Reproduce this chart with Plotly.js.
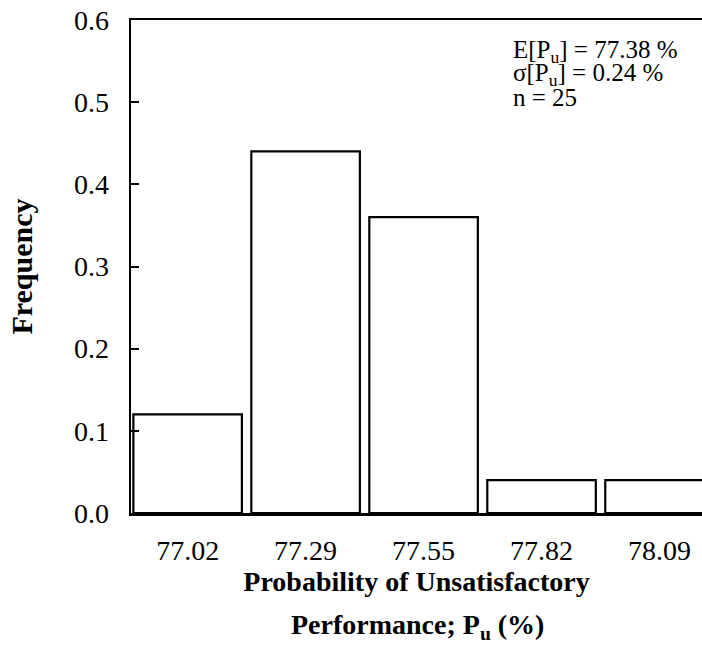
<!DOCTYPE html>
<html>
<head>
<meta charset="utf-8">
<script src="https://cdn.plot.ly/plotly-3.0.1.min.js"></script>
<style>html,body{margin:0;padding:0;background:#fff;}#chart{width:702px;height:672px;}</style>
</head>
<body>
<div id="chart"></div>
<script>
const categories = ["77.02", "77.29", "77.55", "77.82", "78.09"];
const frequency = [0.12, 0.44, 0.36, 0.04, 0.04];
const yTickValues = [0, 0.1, 0.2, 0.3, 0.4, 0.5, 0.6];
const yTickLabels = ["0.0", "0.1", "0.2", "0.3", "0.4", "0.5", "0.6"];
const statsLines = ["E[P<sub>u</sub>] = 77.38 %", "σ[P<sub>u</sub>] = 0.24 %", "n = 25"];

const serif = "'Liberation Serif', 'Times New Roman', serif";

const trace = {
  type: "bar",
  x: categories.map((c, i) => i),
  y: frequency,
  marker: { color: "#ffffff", line: { color: "#000000", width: 2.2 } },
  hoverinfo: "skip"
};

const annotations = statsLines.map((t, i) => ({
  xref: "paper", yref: "paper",
  x: 0.665, y: [0.937, 0.889, 0.843][i],
  xanchor: "left", yanchor: "middle",
  text: t, showarrow: false,
  font: { family: serif, size: 25, color: "#000" }
}));
annotations.push({
  xref: "paper", yref: "paper",
  x: 0.502, y: -0.231, xanchor: "center", yanchor: "middle",
  text: "<b>Performance; P<sub>u</sub> (%)</b>", showarrow: false,
  font: { family: serif, size: 28, color: "#000" }
});

const layout = {
  width: 702, height: 672,
  margin: { l: 131, r: 0, t: 20, b: 159 },
  paper_bgcolor: "#fff", plot_bgcolor: "#fff",
  showlegend: false,
  bargap: 0.08,
  xaxis: {
    range: [-0.48, 4.36],
    tickvals: categories.map((c, i) => i),
    ticktext: categories,
    showline: true, mirror: true, linecolor: "#000", linewidth: 2.5,
    showgrid: false, zeroline: false, ticks: "",
    ticklabelstandoff: 11,
    tickfont: { family: serif, size: 28, color: "#000" },
    title: { text: "<b>Probability of Unsatisfactory</b>", font: { family: serif, size: 28, color: "#000" }, standoff: 4 }
  },
  yaxis: {
    range: [0, 0.6],
    tickvals: yTickValues, ticktext: yTickLabels,
    showline: true, mirror: false, linecolor: "#000", linewidth: 2.5,
    showgrid: false, zeroline: false,
    ticks: "inside", ticklen: 8, tickwidth: 2, tickcolor: "#000",
    ticklabelstandoff: 14,
    tickfont: { family: serif, size: 28, color: "#000" },
    title: { text: "<b>Frequency</b>", font: { family: serif, size: 30, color: "#000" }, standoff: 33 }
  },
  annotations: annotations
};

Plotly.newPlot("chart", [trace], layout, { displayModeBar: false, staticPlot: true });
</script>
</body>
</html>
